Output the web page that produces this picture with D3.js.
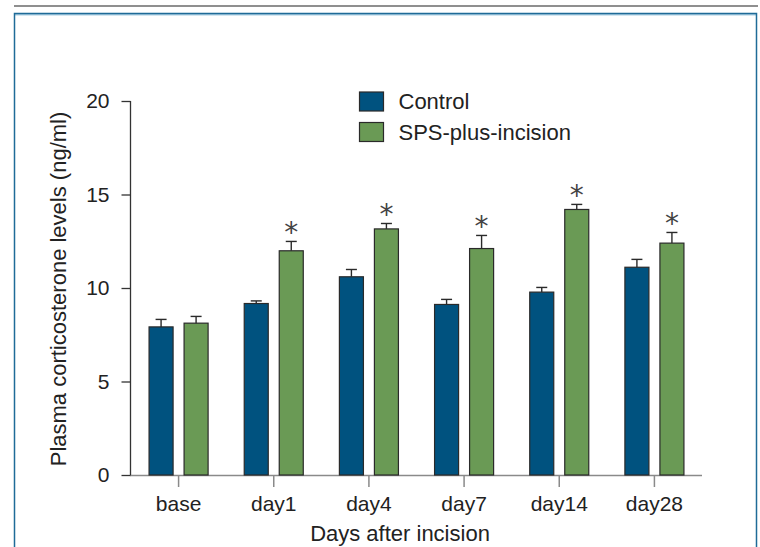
<!DOCTYPE html>
<html lang="en">
<head>
    <meta charset="UTF-8">
    <title>Plasma corticosterone levels</title>
    <script src="https://cdn.jsdelivr.net/npm/d3@7/dist/d3.min.js"></script>
    <style>
        body { margin: 0; background: #fff; }
        svg { display: block; font-family: "Liberation Sans", Arial, sans-serif; }
        .axis text { font-size: 21px; fill: #222; }
        .title { font-size: 22px; fill: #222; }
    </style>
</head>
<body>
    <div id="chart"></div>
    <script>
        // Data (mean and error bar height)
        const categories = ["base", "day1", "day4", "day7", "day14", "day28"];
        const series = ["Control", "SPS-plus-incision"];
        const control = [7.92, 9.17, 10.6, 9.12, 9.78, 11.11];
        const controlErr = [0.40, 0.14, 0.39, 0.27, 0.25, 0.42];
        const sps = [8.12, 11.99, 13.16, 12.11, 14.2, 12.4];
        const spsErr = [0.36, 0.50, 0.29, 0.70, 0.27, 0.57];
        const spsSignificant = [false, true, true, true, true, true];
        const yTicks = [0, 5, 10, 15, 20];

        const colors = { "Control": "#00527f", "SPS-plus-incision": "#6a9a55" };

        const width = 760, height = 547;

        const svg = d3.select("#chart")
            .append("svg")
            .attr("width", width)
            .attr("height", height);

        // page decoration: grey rule and blue frame
        svg.append("rect")
            .attr("x", 14).attr("y", 5)
            .attr("width", 744).attr("height", 2)
            .attr("fill", "#8f8f8f");
        svg.append("rect")
            .attr("x", 14).attr("y", 14)
            .attr("width", 743).attr("height", 1.5)
            .attr("fill", "#a9cde2");
        svg.append("path")
            .attr("d", "M14.5,560V13.5H756.5V560")
            .attr("fill", "none")
            .attr("stroke", "#1f6b98")
            .attr("stroke-width", 1.5);

        const y = d3.scaleLinear().domain([0, 20]).range([475, 101]);
        const x0 = d3.scaleBand().domain(categories).range([131, 702]).padding(0);
        const x1 = d3.scaleBand().domain(series).range([0, x0.bandwidth()])
            .paddingInner(0.314).paddingOuter(0.516);

        const rows = categories.map((c, i) => ({
            cat: c,
            values: [
                { key: "Control", v: control[i], e: controlErr[i], sig: false },
                { key: "SPS-plus-incision", v: sps[i], e: spsErr[i], sig: spsSignificant[i] }
            ]
        }));

        // x axis (grey)
        const xAxis = svg.append("g")
            .attr("class", "axis")
            .attr("transform", "translate(0,475)")
            .call(d3.axisBottom(x0).tickSize(12).tickSizeOuter(0).tickPadding(9));
        xAxis.selectAll("line, path").attr("stroke", "#8a8a8a").attr("stroke-width", 1.5);
        xAxis.select(".domain").attr("d", "M130,0.5H702");

        // y axis
        const yAxis = svg.append("g")
            .attr("class", "axis")
            .attr("transform", "translate(130.5,0)")
            .call(d3.axisLeft(y).tickValues(yTicks).tickSize(9).tickSizeOuter(0).tickPadding(12));
        yAxis.selectAll("line, path").attr("stroke", "#333").attr("stroke-width", 1.3);
        yAxis.select(".domain").attr("d", "M0,101V475");

        // bars
        const groups = svg.append("g")
            .selectAll("g")
            .data(rows)
            .enter().append("g")
            .attr("transform", d => "translate(" + x0(d.cat) + ",0)");

        groups.selectAll("rect")
            .data(d => d.values)
            .enter().append("rect")
            .attr("x", d => x1(d.key))
            .attr("y", d => y(d.v))
            .attr("width", x1.bandwidth())
            .attr("height", d => y(0) - y(d.v))
            .attr("fill", d => colors[d.key])
            .attr("stroke", "#2a2a2a")
            .attr("stroke-width", 1.2);

        // error bars
        const errs = groups.selectAll("g.err")
            .data(d => d.values)
            .enter().append("g")
            .attr("class", "err")
            .attr("stroke", "#2a2a2a")
            .attr("stroke-width", 1.4);
        errs.append("line")
            .attr("x1", d => x1(d.key) + x1.bandwidth() / 2)
            .attr("x2", d => x1(d.key) + x1.bandwidth() / 2)
            .attr("y1", d => y(d.v))
            .attr("y2", d => y(d.v + d.e));
        errs.append("line")
            .attr("x1", d => x1(d.key) + x1.bandwidth() / 2 - 5.5)
            .attr("x2", d => x1(d.key) + x1.bandwidth() / 2 + 5.5)
            .attr("y1", d => y(d.v + d.e))
            .attr("y2", d => y(d.v + d.e));

        // significance stars
        groups.selectAll("text.star")
            .data(d => d.values.filter(v => v.sig))
            .enter().append("text")
            .attr("class", "star")
            .attr("x", d => x1(d.key) + x1.bandwidth() / 2)
            .attr("y", d => y(d.v + d.e) + 1)
            .attr("text-anchor", "middle")
            .attr("font-family", "'DejaVu Sans', sans-serif")
            .attr("font-size", 28)
            .attr("fill", "#444")
            .text("*");

        // legend
        const legend = svg.append("g")
            .selectAll("g")
            .data(series)
            .enter().append("g")
            .attr("transform", (d, i) => "translate(359.5," + (92 + i * 30.5) + ")");
        legend.append("rect")
            .attr("width", 24)
            .attr("height", 19)
            .attr("fill", d => colors[d])
            .attr("stroke", "#2a2a2a")
            .attr("stroke-width", 1.2);
        legend.append("text")
            .attr("class", "title")
            .attr("x", 39)
            .attr("y", 9.5)
            .attr("dy", "0.35em")
            .text(d => d);

        // axis titles
        svg.append("text")
            .attr("class", "title")
            .attr("transform", "translate(66,289) rotate(-90)")
            .attr("text-anchor", "middle")
            .text("Plasma corticosterone levels (ng/ml)");
        svg.append("text")
            .attr("class", "title")
            .attr("x", 400)
            .attr("y", 541)
            .attr("text-anchor", "middle")
            .text("Days after incision");
    </script>
</body>
</html>
